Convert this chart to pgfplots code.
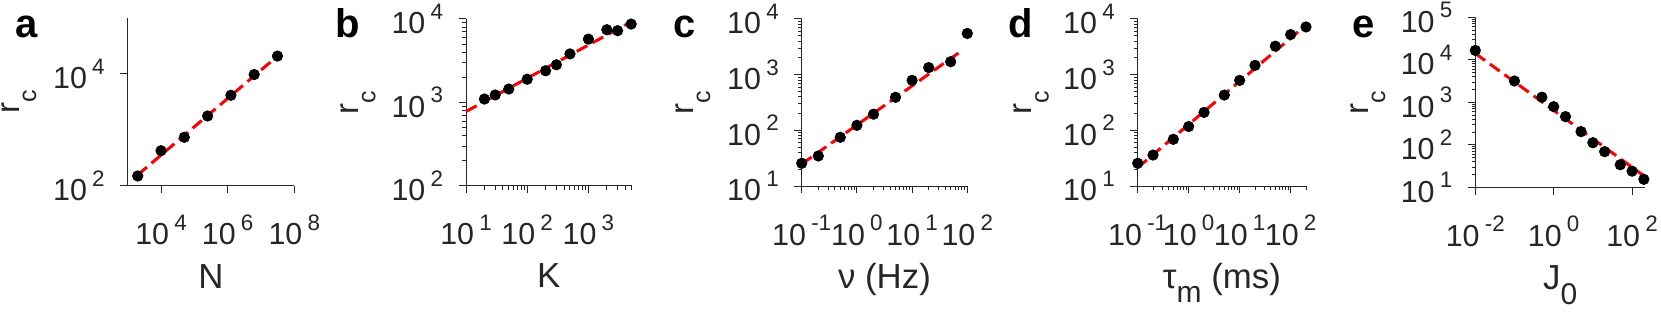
\documentclass[border=0pt]{standalone}
\usepackage{fontspec}
\setmainfont{Liberation Sans}
\usepackage{pgfplots}
\pgfplotsset{compat=1.18}
\definecolor{axgray}{RGB}{38,38,38}
\newcommand{\tickfont}{\fontsize{15.2}{18}\selectfont}
\newcommand{\labfont}{\fontsize{17.4}{20}\selectfont}
\newcommand{\pw}[1]{10\hspace{2.6pt}\raisebox{7.2pt}{\fontsize{11.2}{13}\selectfont #1}}
\newcommand{\rc}{{\fontsize{16.5}{18}\selectfont r\raisebox{-8.5pt}{\fontsize{12.5}{13}\selectfont c}}}
\begin{document}
\begin{tikzpicture}
\path[use as bounding box] (0,0) rectangle (830.5pt,155.5pt);

% panel letters
\node[anchor=base west, inner sep=0pt, font=\fontsize{20}{22}\selectfont\bfseries] at (7.5pt,136.85pt) {a};
\node[anchor=base west, inner sep=0pt, font=\fontsize{20}{22}\selectfont\bfseries] at (167.5pt,136.85pt) {b};
\node[anchor=base west, inner sep=0pt, font=\fontsize{20}{22}\selectfont\bfseries] at (336.65pt,136.85pt) {c};
\node[anchor=base west, inner sep=0pt, font=\fontsize{20}{22}\selectfont\bfseries] at (504pt,136.85pt) {d};
\node[anchor=base west, inner sep=0pt, font=\fontsize{20}{22}\selectfont\bfseries] at (675.85pt,136.85pt) {e};

% a
\begin{axis}[xmode=log, ymode=log, anchor=south west, at={(63.85pt,62.5pt)}, width=83.3pt, height=84pt,
  scale only axis, axis lines*=left, clip=false,
  axis line style={color=axgray, line width=0.5pt},
  major tick length=3.7pt, minor tick length=1.8pt, tick align=outside,
  tick style={color=axgray, line width=0.5pt},
  xticklabel style={font=\tickfont, text=axgray, anchor=base, inner sep=0pt, yshift=-25.8pt},
  yticklabel style={font=\tickfont, text=axgray, anchor=east, inner sep=0pt, xshift=-7.6pt},
  xlabel style={font=\labfont, text=axgray, at={(axis description cs:0.5,0)}, anchor=base, yshift=-51pt},
  ylabel style={font=\labfont, text=axgray, at={(axis description cs:-0.652,0.5)}, anchor=base},
  xmin=1e3, xmax=1e8, ymin=1e2, ymax=1e5,
  xtick={1e4,1e6,1e8}, xticklabels={\pw{4},\pw{6},\pw{8}},
  ytick={1e2,1e4}, yticklabels={\pw{2},\pw{4}},
  xlabel={N}, ylabel={\rc},
]
\addplot[only marks, mark=*, mark size=2.6pt, black] coordinates {(2000,151) (1e4,427) (5e4,741) (2.5e5,1778) (1.25e6,4169) (6.25e6,9772) (3.125e7,20893)};
\addplot[red, line width=1.5pt, dash pattern=on 6pt off 3pt, mark=none] coordinates {(2000,158) (3.125e7,20900)};
\end{axis}

% b
\begin{axis}[xmode=log, ymode=log, anchor=south west, at={(233pt,62.5pt)}, width=82.85pt, height=83.5pt,
  scale only axis, axis lines*=left, clip=false,
  axis line style={color=axgray, line width=0.5pt},
  major tick length=3.7pt, minor tick length=1.8pt, tick align=outside,
  tick style={color=axgray, line width=0.5pt},
  xticklabel style={font=\tickfont, text=axgray, anchor=base, inner sep=0pt, yshift=-25.8pt},
  yticklabel style={font=\tickfont, text=axgray, anchor=east, inner sep=0pt, xshift=-7.6pt},
  xlabel style={font=\labfont, text=axgray, at={(axis description cs:0.5,0)}, anchor=base, yshift=-51pt},
  ylabel style={font=\labfont, text=axgray, at={(axis description cs:-0.650,0.5)}, anchor=base},
  xmin=10, xmax=5100, ymin=1e2, ymax=1e4,
  xtick={10,100,1000}, xticklabels={\pw{1},\pw{2},\pw{3}},
  ytick={1e2,1e3,1e4}, yticklabels={\pw{2},\pw{3},\pw{4}},
  minor xtick={20,30,40,50,60,70,80,90,200,300,400,500,600,700,800,900,2000,3000,4000,5000},
  minor ytick={200,300,400,500,600,700,800,900,2000,3000,4000,5000,6000,7000,8000,9000},
  xlabel={K}, ylabel={\rc},
]
\addplot[only marks, mark=*, mark size=2.6pt, black] coordinates {(20,1100) (30,1230) (50,1450) (100,1900) (200,2400) (300,2830) (500,3820) (1000,5740) (2000,7440) (3000,7250) (5000,8700)};
\addplot[red, line width=1.5pt, dash pattern=on 6pt off 3pt, mark=none] coordinates {(10,780) (5100,9330)};
\end{axis}

% c
\begin{axis}[xmode=log, ymode=log, anchor=south west, at={(400.85pt,62.5pt)}, width=82.8pt, height=83.5pt,
  scale only axis, axis lines*=left, clip=false,
  axis line style={color=axgray, line width=0.5pt},
  major tick length=3.7pt, minor tick length=1.8pt, tick align=outside,
  tick style={color=axgray, line width=0.5pt},
  xticklabel style={font=\tickfont, text=axgray, anchor=base, inner sep=0pt, yshift=-25.8pt},
  yticklabel style={font=\tickfont, text=axgray, anchor=east, inner sep=0pt, xshift=-7.6pt},
  xlabel style={font=\labfont, text=axgray, at={(axis description cs:0.5,0)}, anchor=base, yshift=-51pt},
  ylabel style={font=\labfont, text=axgray, at={(axis description cs:-0.656,0.5)}, anchor=base},
  xmin=0.1, xmax=100, ymin=10, ymax=1e4,
  xtick={0.1,1,10,100}, xticklabels={\pw{-1},\pw{0},\pw{1},\pw{2}},
  ytick={10,100,1000,10000}, yticklabels={\pw{1},\pw{2},\pw{3},\pw{4}},
  minor xtick={0.2,0.3,0.4,0.5,0.6,0.7,0.8,0.9,2,3,4,5,6,7,8,9,20,30,40,50,60,70,80,90},
  minor ytick={20,30,40,50,60,70,80,90,200,300,400,500,600,700,800,900,2000,3000,4000,5000,6000,7000,8000,9000},
  xlabel={ν (Hz)}, ylabel={\rc},
]
\addplot[only marks, mark=*, mark size=2.6pt, black] coordinates {(0.1,25.6) (0.2,34.6) (0.5,75) (1,123) (2,195) (5,392) (10,790) (20,1340) (50,1710) (100,5500)};
\addplot[red, line width=1.5pt, dash pattern=on 6pt off 3pt, mark=none] coordinates {(0.1,24.8) (79,2690)};
\end{axis}

% d
\begin{axis}[xmode=log, ymode=log, anchor=south west, at={(568.85pt,62.5pt)}, width=84.15pt, height=83.5pt,
  scale only axis, axis lines*=left, clip=false,
  axis line style={color=axgray, line width=0.5pt},
  major tick length=3.7pt, minor tick length=1.8pt, tick align=outside,
  tick style={color=axgray, line width=0.5pt},
  xticklabel style={font=\tickfont, text=axgray, anchor=base, inner sep=0pt, yshift=-25.8pt},
  yticklabel style={font=\tickfont, text=axgray, anchor=east, inner sep=0pt, xshift=-7.6pt},
  xlabel style={font=\labfont, text=axgray, at={(axis description cs:0.5,0)}, anchor=base, yshift=-51pt},
  ylabel style={font=\labfont, text=axgray, at={(axis description cs:-0.630,0.5)}, anchor=base},
  xmin=0.1, xmax=200, ymin=10, ymax=1e4,
  xtick={0.1,1,10,100}, xticklabels={\pw{-1},\pw{0},\pw{1},\pw{2}},
  ytick={10,100,1000,10000}, yticklabels={\pw{1},\pw{2},\pw{3},\pw{4}},
  minor xtick={0.2,0.3,0.4,0.5,0.6,0.7,0.8,0.9,2,3,4,5,6,7,8,9,20,30,40,50,60,70,80,90,200},
  minor ytick={20,30,40,50,60,70,80,90,200,300,400,500,600,700,800,900,2000,3000,4000,5000,6000,7000,8000,9000},
  xlabel={τ\raisebox{-7.2pt}{\fontsize{15}{16}\selectfont m} (ms)}, ylabel={\rc},
]
\addplot[only marks, mark=*, mark size=2.6pt, black] coordinates {(0.1,25.6) (0.2,36) (0.5,69) (1,117) (2,210) (5,430) (10,790) (20,1470) (50,3250) (100,5250) (200,7200)};
\addplot[red, line width=1.5pt, dash pattern=on 6pt off 3pt, mark=none] coordinates {(0.1,21.4) (200,7760)};
\end{axis}

% e
\begin{axis}[xmode=log, ymode=log, anchor=south west, at={(737.65pt,61.85pt)}, width=84.85pt, height=85pt,
  scale only axis, axis lines*=left, clip=false,
  axis line style={color=axgray, line width=0.5pt},
  major tick length=3.7pt, minor tick length=1.8pt, tick align=outside,
  tick style={color=axgray, line width=0.5pt},
  xticklabel style={font=\tickfont, text=axgray, anchor=base, inner sep=0pt, yshift=-25.8pt},
  yticklabel style={font=\tickfont, text=axgray, anchor=east, inner sep=0pt, xshift=-7.6pt},
  xlabel style={font=\labfont, text=axgray, at={(axis description cs:0.5,0)}, anchor=base, yshift=-51pt},
  ylabel style={font=\labfont, text=axgray, at={(axis description cs:-0.631,0.5)}, anchor=base},
  xmin=0.01, xmax=214, ymin=10, ymax=1e5,
  xtick={0.01,1,100}, xticklabels={\pw{-2},\pw{0},\pw{2}},
  ytick={10,100,1000,10000,100000}, yticklabels={\pw{1},\pw{2},\pw{3},\pw{4},\pw{5}},
  minor ytick={20,30,40,50,60,70,80,90,200,300,400,500,600,700,800,900,2000,3000,4000,5000,6000,7000,8000,9000,20000,30000,40000,50000,60000,70000,80000,90000},
  xlabel={J\raisebox{-7.5pt}{\fontsize{15}{16}\selectfont 0}}, ylabel={\rc},
]
\addplot[only marks, mark=*, mark size=2.6pt, black] coordinates {(0.01,16600) (0.1,3170) (0.5,1320) (1,790) (2,460) (5,204) (10,112) (20,69) (50,34) (100,24) (200,15.4)};
\addplot[red, line width=1.5pt, dash pattern=on 6pt off 3pt, mark=none] coordinates {(0.01,14100) (214,17.8)};
\end{axis}
\end{tikzpicture}
\end{document}
